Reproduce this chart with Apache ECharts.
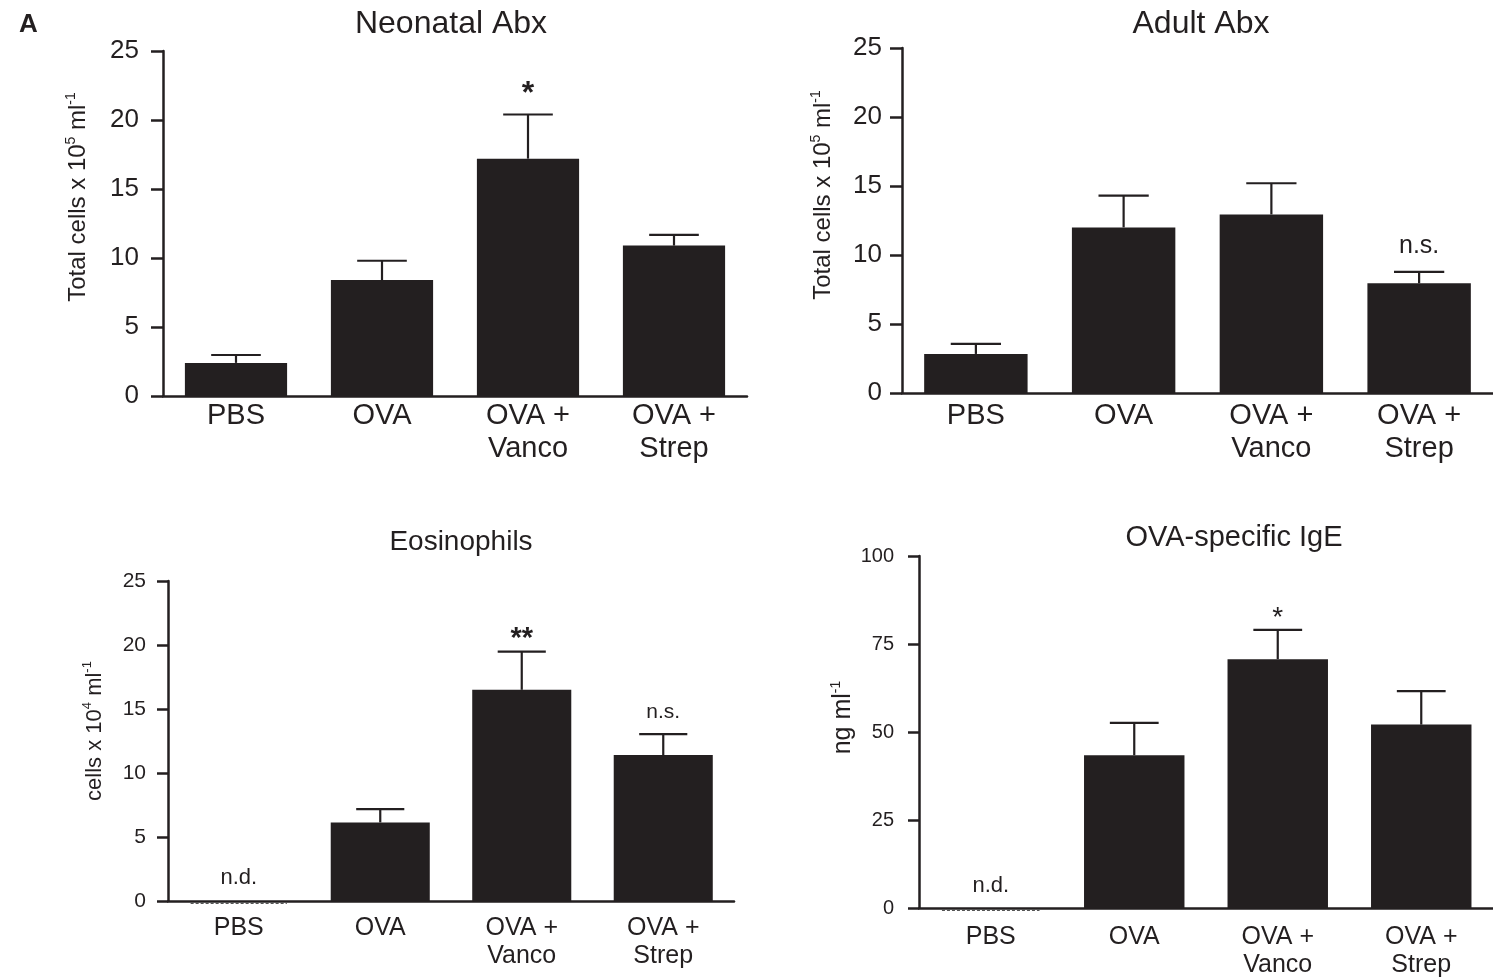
<!DOCTYPE html>
<html><head><meta charset="utf-8">
<script src="https://cdn.jsdelivr.net/npm/echarts@6/dist/echarts.min.js"></script>
<style>html,body{margin:0;padding:0;background:#fff}#c{width:1493px;height:979px}</style>
</head><body><div id="c"></div>
<script>
// ---------------- data ----------------
const categories = ['PBS', 'OVA', 'OVA +\nVanco', 'OVA +\nStrep'];

const neonatalMean = [2.4, 8.4, 17.2, 10.9];
const neonatalSem  = [0.57, 1.4, 3.2, 0.77];
const neonatalNotes = ['', '', '*', ''];

const adultMean = [2.83, 12.0, 12.94, 7.95];
const adultSem  = [0.73, 2.3, 2.26, 0.82];
const adultNotes = ['', '', '', 'n.s.'];

const eosMean = [0, 6.14, 16.5, 11.4];
const eosSem  = [0, 1.04, 2.98, 1.63];
const eosNotes = ['n.d.', '', '**', 'n.s.'];

const igeMean = [0, 43.4, 70.7, 52.1];
const igeSem  = [0, 9.2, 8.3, 9.5];
const igeNotes = ['n.d.', '', '*', ''];

const cellTicks = [0, 5, 10, 15, 20, 25];
const igeTicks = [0, 25, 50, 75, 100];

// ---------------- styles / layout ----------------
const INK = '#231f20';
const FONT = "'Liberation Sans', Arial, Helvetica, sans-serif";

const panels = [
  { title: 'Neonatal Abx', tx: 446, ty: 3, tfs: 32,
    grid: { left: 163, top: 51, width: 584, height: 345 },
    ticks: cellTicks, yName: 'Total cells x 10{sup|5} ml{sup|-1}',
    nameFs: 24, supFs: 14, nameGap: 71, namePadL: 53,
    tickFs: 26, tickLen: 12, labelMargin: 24,
    catFs: 29, catLH: 33, catMargin: 3,
    mean: neonatalMean, sem: neonatalSem, notes: neonatalNotes,
    noteStyle: { '*': { fs: 32, fw: 'bold', gap: 4 } } },
  { title: 'Adult Abx', tx: 1196, ty: 3, tfs: 32,
    grid: { left: 902, top: 48, width: 605, height: 345 },
    ticks: cellTicks, yName: 'Total cells x 10{sup|5} ml{sup|-1}',
    nameFs: 24, supFs: 14, nameGap: 65, namePadL: 51,
    tickFs: 26, tickLen: 12, labelMargin: 20,
    catFs: 29, catLH: 33, catMargin: 6,
    mean: adultMean, sem: adultSem, notes: adultNotes,
    noteStyle: { 'n.s.': { fs: 25, fw: 'normal', gap: 13 } } },
  { title: 'Eosinophils', tx: 456, ty: 523, tfs: 28,
    grid: { left: 168, top: 581, width: 566, height: 320 },
    ticks: cellTicks, yName: 'cells x 10{sup|4} ml{sup|-1}',
    nameFs: 22, supFs: 13, nameGap: 59, namePadL: 20,
    tickFs: 21, tickLen: 11, labelMargin: 22,
    catFs: 25, catLH: 28, catMargin: 13,
    mean: eosMean, sem: eosSem, notes: eosNotes,
    noteStyle: { '**': { fs: 29, fw: 'bold', gap: -2 }, 'n.s.': { fs: 21, fw: 'normal', gap: 12 }, 'n.d.': { fs: 22, fw: 'normal', gap: 12 } } },
  { title: 'OVA-specific IgE', tx: 1229, ty: 518, tfs: 29,
    grid: { left: 919, top: 556, width: 577, height: 352 },
    ticks: igeTicks, yName: 'ng ml{sup|-1}',
    nameFs: 25, supFs: 14, nameGap: 59, namePadL: 29,
    tickFs: 20, tickLen: 11, labelMargin: 25,
    catFs: 25, catLH: 28, catMargin: 15,
    mean: igeMean, sem: igeSem, notes: igeNotes,
    noteStyle: { '*': { fs: 28, fw: 'normal', gap: -2 }, 'n.d.': { fs: 22, fw: 'normal', gap: 11 } } }
];

const option = {
  backgroundColor: '#fff',
  animation: false,
  title: [{ text: 'A', left: 14, top: 7, textStyle: { fontFamily: FONT, fontSize: 26, fontWeight: 'bold', color: INK } }],
  grid: [], xAxis: [], yAxis: [], series: []
};

panels.forEach((p, i) => {
  option.title.push({
    text: p.title, left: p.tx, top: p.ty, textAlign: 'center',
    textStyle: { fontFamily: FONT, fontSize: p.tfs, fontWeight: 'normal', color: INK }
  });
  option.grid.push(Object.assign({ containLabel: false }, p.grid));
  option.xAxis.push({
    type: 'category', gridIndex: i, data: categories,
    axisLine: { show: true, lineStyle: { color: INK, width: 2.5 } },
    axisTick: { show: false },
    axisLabel: { interval: 0, color: INK, fontFamily: FONT, fontSize: p.catFs, lineHeight: p.catLH, margin: p.catMargin },
    splitLine: { show: false }
  });
  const t = p.ticks;
  option.yAxis.push({
    type: 'value', gridIndex: i, min: t[0], max: t[t.length - 1], interval: t[1] - t[0],
    name: p.yName, nameLocation: 'middle', nameRotate: 90, nameGap: p.nameGap,
    nameTextStyle: {
      fontFamily: FONT, fontSize: p.nameFs, color: INK, lineHeight: 28,
      padding: [0, 0, 0, p.namePadL],
      rich: { sup: { fontFamily: FONT, fontSize: p.supFs, color: INK, lineHeight: 14, verticalAlign: 'top' } }
    },
    axisLine: { show: true, lineStyle: { color: INK, width: 2.5 } },
    axisTick: { show: true, length: p.tickLen, lineStyle: { color: INK, width: 2.5 } },
    axisLabel: { color: INK, fontFamily: FONT, fontSize: p.tickFs, margin: p.labelMargin },
    splitLine: { show: false }
  });
  option.series.push({
    type: 'bar', xAxisIndex: i, yAxisIndex: i, data: p.mean,
    barWidth: '70%', itemStyle: { color: INK }, z: 2
  });
  const notes = p.notes, ns = p.noteStyle;
  option.series.push({
    type: 'custom', xAxisIndex: i, yAxisIndex: i, z: 3, clip: false,
    data: p.mean.map((m, k) => [k, m, p.sem[k]]),
    renderItem: function (params, api) {
      const k = api.value(0), m = api.value(1), e = api.value(2);
      const bw = api.size([1, 0])[0];
      const base = api.coord([k, m]);
      const top = api.coord([k, m + e]);
      const children = [];
      if (e > 0) {
        children.push({ type: 'line', shape: { x1: base[0], y1: base[1], x2: top[0], y2: top[1] }, style: { stroke: INK, lineWidth: 2.2 } });
        children.push({ type: 'line', shape: { x1: top[0] - bw * 0.17, y1: top[1], x2: top[0] + bw * 0.17, y2: top[1] }, style: { stroke: INK, lineWidth: 2.2 } });
      }
      if (m === 0) {
        children.push({ type: 'line', shape: { x1: base[0] - bw * 0.34, y1: base[1] + 2, x2: base[0] + bw * 0.34, y2: base[1] + 2 }, style: { stroke: '#555', lineWidth: 2, lineDash: [3, 2] } });
      }
      const note = notes[params.dataIndex];
      if (note) {
        const s = ns[note];
        children.push({ type: 'text', style: { text: note, x: top[0], y: top[1] - s.gap, align: 'center', verticalAlign: 'bottom', fontFamily: FONT, fontSize: s.fs, fontWeight: s.fw, fill: INK } });
      }
      return { type: 'group', children: children };
    }
  });
});

const chart = echarts.init(document.getElementById('c'), null, { renderer: 'canvas' });
chart.setOption(option);
</script>
</body></html>
